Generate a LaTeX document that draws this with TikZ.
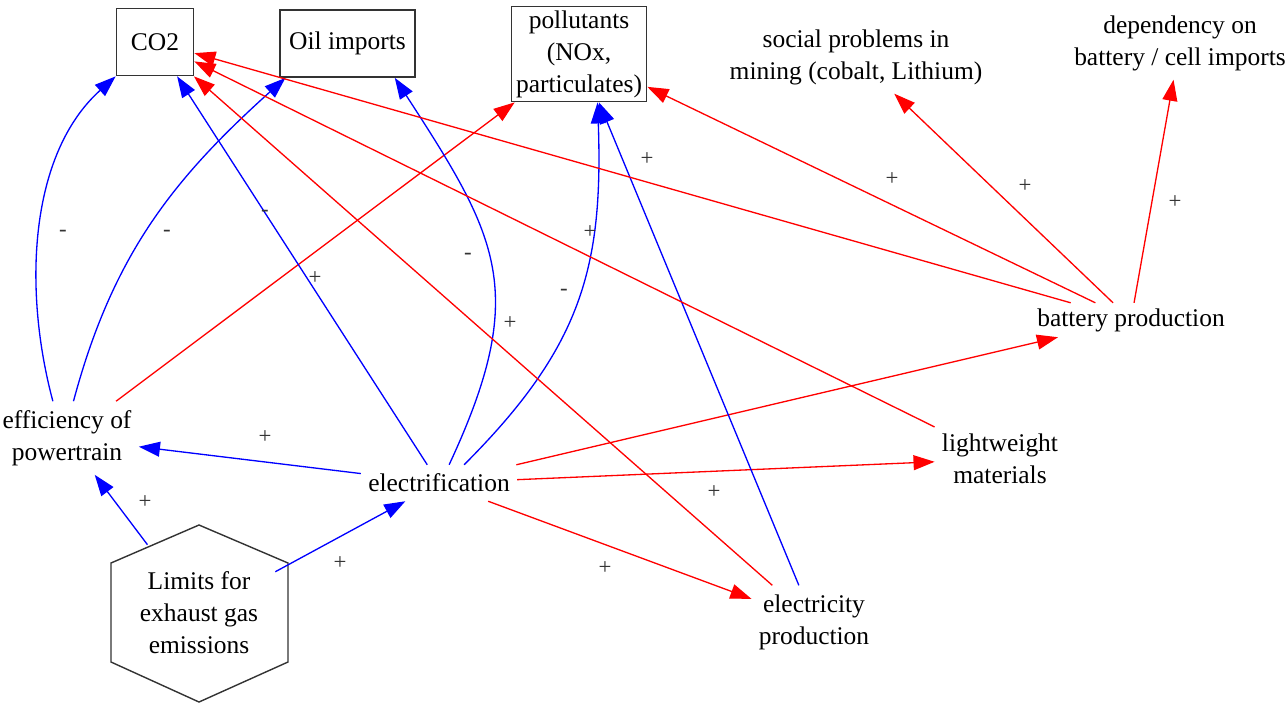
\documentclass[tikz,border=0pt]{standalone}
\usepackage{fontspec}
\setmainfont{Liberation Serif}
\usetikzlibrary{arrows.meta}

\tikzset{
	var/.style={align=center, inner xsep=4pt, inner ysep=5pt, font=\fontsize{14.5}{18.2}\selectfont},
	level/.style={var, draw=black!80, line width=1pt, inner sep=0pt},
	redlink/.style={red, line width=0.75pt, -{Triangle[length=12pt,width=8.5pt]}},
	bluelink/.style={blue, line width=0.75pt, -{Triangle[length=12pt,width=8.5pt]}},
	sign/.style={font=\fontsize{13}{15}\selectfont, text=black!80, inner sep=1pt},
	hexline/.style={draw=black!80, line width=0.8pt}
}

\begin{document}
\begin{tikzpicture}[x=0.02cm,y=0.02cm] % 1 unit = 1 px of the original
	\useasboundingbox (0,0) rectangle (1287,-704);
	% stocks
	\node[level, minimum width=1.54cm, minimum height=1.34cm] (co2) at (155,-42) {CO2};
	\node[level, minimum width=2.7cm, minimum height=1.34cm] (oil) at (347.5,-43.5) {Oil imports};
	\node[level, minimum width=2.7cm, minimum height=1.9cm] (poll) at (579,-54) {pollutants\\(NOx,\\particulates)};
	% variables
	\node[var] (social) at (856,-57) {social problems in\\mining (cobalt, Lithium)};
	\node[var] (depend) at (1180,-43) {dependency on\\battery / cell imports};
	\node[var, inner ysep=3pt] (battery) at (1131,-320) {battery production};
	\node[var] (eff) at (67,-438) {efficiency of\\powertrain};
	\node[var] (elec) at (439,-483) {electrification};
	\node[var] (light) at (1000,-459) {lightweight\\materials};
	\node[var] (elecprod) at (814,-622) {electricity\\production};
	\node[var, minimum width=3.04cm, minimum height=2.72cm] (limits) at (199,-613) {Limits for\\exhaust gas\\emissions};
	\draw[hexline] (199,-525) -- (288,-563) -- (288,-662) -- (199,-702) -- (111,-662) -- (111,-563) -- cycle;

	% links
	\draw[bluelink] (eff.111) to[out=105, in=222, looseness=0.9] (co2.south west);
	\draw[bluelink] (eff.80) to[out=75, in=222] (oil.209);
	\draw[redlink] (eff) -- (poll);
	\draw[bluelink] (elec) -- (co2);
	\draw[bluelink] (elec.61) to[out=65, in=-57, looseness=1.25] (oil.324);
	\draw[bluelink] (elec.36) to[out=45, in=-88, looseness=1.1] (poll.291);
	\draw[bluelink] (elec) -- (eff);
	\draw[redlink] (elec) -- (battery);
	\draw[redlink] (elec) -- (light);
	\draw[redlink] (elec) -- (elecprod);
	\draw[redlink] (elecprod) -- (co2);
	\draw[bluelink] (elecprod) -- (poll);
	\draw[redlink] (light) -- (co2);
	\draw[redlink] (battery) -- (co2);
	\draw[redlink] (battery) -- (poll);
	\draw[redlink] (battery) -- (social);
	\draw[redlink] (battery) -- (depend);
	\draw[bluelink] (limits) -- (eff);
	\draw[bluelink] (limits) -- (elec);

	% polarities
	\node[sign] (s1) at (63,-233) {-};
	\node[sign] (s2) at (167,-233) {-};
	\node[sign] (s3) at (265,-213) {-};
	\node[sign] (s4) at (315,-278) {+};
	\node[sign] (s5) at (468,-256) {-};
	\node[sign] (s6) at (510,-323) {+};
	\node[sign] (s7) at (590,-232) {+};
	\node[sign] (s8) at (564,-292) {-};
	\node[sign] (s9) at (647,-159) {+};
	\node[sign] (s10) at (892,-179) {+};
	\node[sign] (s11) at (1025,-186) {+};
	\node[sign] (s12) at (1175,-202) {+};
	\node[sign] (s13) at (265,-437) {+};
	\node[sign] (s14) at (145,-502) {+};
	\node[sign] (s15) at (340,-563) {+};
	\node[sign] (s16) at (714,-492) {+};
	\node[sign] (s17) at (605,-568) {+};
\end{tikzpicture}
\end{document}
